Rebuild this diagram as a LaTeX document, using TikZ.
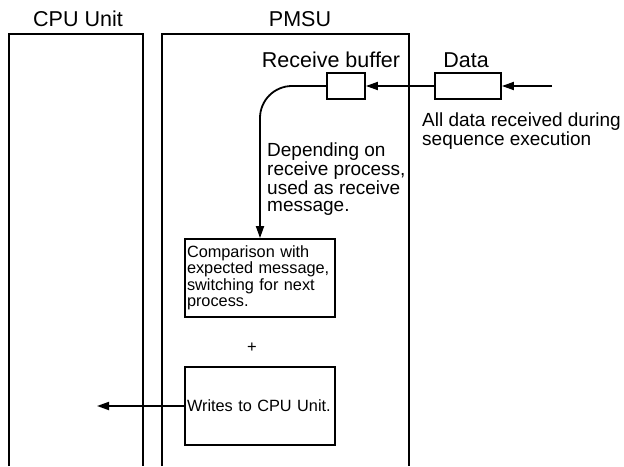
\documentclass[tikz,border=0pt]{standalone}
\usepackage{fontspec}
\setmainfont{Liberation Sans}
\usetikzlibrary{arrows.meta}
\newcommand\mynohyph{\hyphenpenalty=10000\relax}
\tikzset{
  frame/.style={line width=1.8pt},
  smallbox/.style={draw, line width=1.8pt, rectangle, inner sep=0pt},
  bigbox/.style={draw, line width=1.8pt, rectangle, minimum width=150pt, minimum height=78pt, inner xsep=2pt, inner ysep=0pt, text width=146pt, align=left, font=\fontsize{16.3}{16.5}\selectfont\mynohyph},
  hdr/.style={font=\fontsize{21.5}{22}\selectfont, inner sep=0pt},
  desc/.style={font=\fontsize{19}{17.5}\selectfont, inner sep=0pt, align=left},
  conn/.style={line width=1.8pt, -{Triangle[length=12pt,width=8pt]}}
}
\begin{document}
\begin{tikzpicture}[x=1pt,y=-1pt]
\useasboundingbox (0,0) rectangle (624,466);
% enclosures
\draw[frame] (9,466) -- (9,34) -- (143,34) -- (143,466);
\draw[frame] (162,466) -- (162,34) -- (409,34) -- (409,466);
\node[hdr, anchor=base] (cpulbl) at (78,26) {CPU Unit};
\node[hdr, anchor=base] (pmsulbl) at (300,26) {PMSU};
% buffers
\node[smallbox, minimum width=38pt, minimum height=26pt] (rb) at (346,86) {};
\node[smallbox, minimum width=66pt, minimum height=26pt] (data) at (468,86) {};
\node[hdr, anchor=base] (rblbl) at (331,67) {Receive buffer};
\node[hdr, anchor=base] (datalbl) at (466,67) {Data};
\coordinate (src) at (552,86);
\node[desc, anchor=north west] (alltxt) at (422,113) {All data received during\\sequence execution};
% processing boxes
\node[bigbox] (cmp) at (260,278) {Comparison with\\expected message,\\switching for next\\process.};
\node (plus) [font=\fontsize{16.5}{16.5}\selectfont, inner sep=0pt] at (252,348) {+};
\node[bigbox] (wr) at (260,406) {Writes to CPU Unit.};
\coordinate (cpuin) at (97,406);
\node[desc, anchor=north west] (deptxt) at (267,143) {Depending on\\receive process,\\used as receive\\message.};
% connectors
\draw[conn] (src) -- (data.east);
\draw[conn] (data.west) -- (rb.east);
\draw[conn, rounded corners=32pt] (rb.west) -| (cmp.north);
\draw[conn] (wr.west) -- (cpuin);
\end{tikzpicture}
\end{document}
